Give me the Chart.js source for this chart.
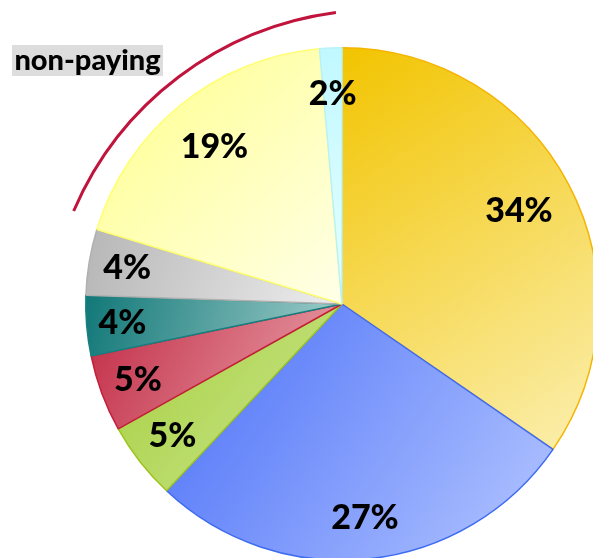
<!DOCTYPE html>
<html>
<head>
<meta charset="utf-8">
<script src="https://cdn.jsdelivr.net/npm/chart.js@4.4.1/dist/chart.umd.min.js"></script>
<style>
  html, body { margin: 0; padding: 0; background: #ffffff; overflow: hidden; width: 593px; height: 558px; }
  #wrap { position: absolute; left: 0; top: 0; width: 684px; height: 608px; }
  #note { position: absolute; left: 12px; top: 45px; width: 151px; height: 31px; background: #dddddd;
          font-family: Lato, "Open Sans", sans-serif; font-weight: 900; font-size: 29px; line-height: 28px;
          color: #000; text-align: center; white-space: nowrap; }
</style>
</head>
<body>
<div id="wrap"><canvas id="c" width="684" height="608"></canvas></div>
<div id="note">non-paying</div>
<script>
// Data (share of the pie, clockwise from 12 o'clock)
const categories = ["Segment A", "Segment B", "Segment C", "Segment D", "Segment E", "Segment F", "Non-paying A", "Non-paying B"];
const shares = [34.6, 27.4, 4.9, 4.85, 3.8, 4.15, 18.9, 1.4];
const shareLabels = ["34%", "27%", "5%", "5%", "4%", "4%", "19%", "2%"];
const nonPayingIdx = [6, 7];

// Styles
const darkColors  = ["#f2c400", "#4a6ff8", "#a6ce3c", "#c22c46", "#127878", "#b6b6b6", "#ffff8a", "#c0f8ff"];
const lightColors = ["#fbefb0", "#b4c6ff", "#cbe792", "#eaa6ae", "#a2cfcc", "#eeeeee", "#ffffe8", "#e8ffff"];
const edgeColors  = ["#f5b400", "#3d6bf2", "#9cc31e", "#c41e3a", "#168080", "#b0b0b0", "#ffff70", "#b8f2f8"];
const labelRadius = [0.78, 0.84, 0.84, 0.85, 0.86, 0.85, 0.79, 0.82];

const gradientPlugin = {
  id: 'sliceGradients',
  beforeDatasetsDraw(chart) {
    const ctx = chart.ctx;
    const meta = chart.getDatasetMeta(0);
    meta.data.forEach((arc, i) => {
      const p = arc.getProps(['x', 'y', 'startAngle', 'endAngle', 'outerRadius'], true);
      const pts = [[p.x, p.y],
        [p.x + p.outerRadius * Math.cos(p.startAngle), p.y + p.outerRadius * Math.sin(p.startAngle)],
        [p.x + p.outerRadius * Math.cos(p.endAngle), p.y + p.outerRadius * Math.sin(p.endAngle)]];
      for (let k = -4; k <= 8; k++) {
        const a = k * Math.PI / 2;
        if (a > p.startAngle && a < p.endAngle) pts.push([p.x + p.outerRadius * Math.cos(a), p.y + p.outerRadius * Math.sin(a)]);
      }
      const xs = pts.map(q => q[0]), ys = pts.map(q => q[1]);
      const g = ctx.createLinearGradient(Math.min(...xs), Math.min(...ys), Math.max(...xs), Math.max(...ys));
      g.addColorStop(0, darkColors[i]);
      g.addColorStop(1, lightColors[i]);
      arc.options.backgroundColor = g;
    });
  }
};

const labelPlugin = {
  id: 'sliceLabels',
  afterDatasetsDraw(chart) {
    const ctx = chart.ctx;
    const meta = chart.getDatasetMeta(0);
    ctx.save();
    ctx.font = '900 34px Lato, "Open Sans", sans-serif';
    ctx.fillStyle = '#000000';
    ctx.textAlign = 'center';
    ctx.textBaseline = 'middle';
    meta.data.forEach((arc, i) => {
      const p = arc.getProps(['x', 'y', 'startAngle', 'endAngle', 'outerRadius'], true);
      const mid = (p.startAngle + p.endAngle) / 2;
      const r = p.outerRadius * labelRadius[i];
      ctx.fillText(shareLabels[i], p.x + r * Math.cos(mid), p.y + r * Math.sin(mid));
    });
    ctx.restore();
  }
};

const bracketPlugin = {
  id: 'nonPayingArc',
  afterDraw(chart) {
    const ctx = chart.ctx;
    const meta = chart.getDatasetMeta(0);
    const first = meta.data[nonPayingIdx[0]], last = meta.data[nonPayingIdx[nonPayingIdx.length - 1]];
    const cx = first.x + 37, cy = first.y + 38, R = first.outerRadius + 76;
    ctx.save();
    ctx.strokeStyle = '#c0143c';
    ctx.lineWidth = 3;
    ctx.beginPath();
    ctx.arc(cx, cy, R, first.startAngle + 0.11, last.endAngle - 0.13);
    ctx.stroke();
    ctx.restore();
  }
};

new Chart(document.getElementById('c'), {
  type: 'pie',
  data: {
    labels: categories,
    datasets: [{
      data: shares,
      backgroundColor: darkColors,
      borderColor: edgeColors,
      borderWidth: 1.5
    }]
  },
  options: {
    responsive: false,
    animation: false,
    layout: { padding: { top: 47, bottom: 47, left: 85, right: 85 } },
    plugins: { legend: { display: false }, tooltip: { enabled: false } }
  },
  plugins: [gradientPlugin, labelPlugin, bracketPlugin]
});
</script>
</body>
</html>
